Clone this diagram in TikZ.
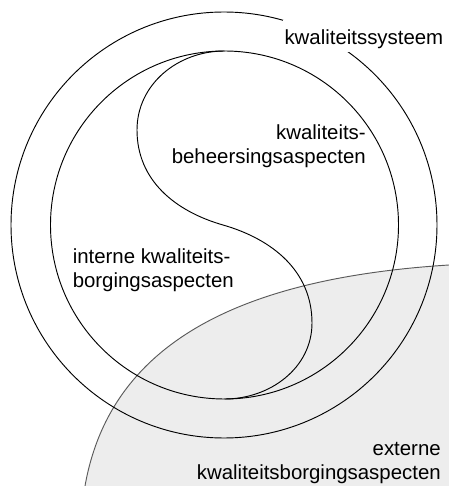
\documentclass[tikz,border=0pt]{standalone}
\usepackage{fontspec}
\setmainfont{Liberation Sans}
\usepackage{xcolor}
\definecolor{extgray}{HTML}{EDEDED}
\definecolor{extline}{HTML}{5A5A5A}

\begin{document}
\begin{tikzpicture}[
    x=0.75pt, y=0.75pt,
    ring/.style={
        draw=black,
        line width=0.7pt,
    },
    tag/.style={
        font=\fontsize{15.3pt}{17.6pt}\selectfont,
        inner sep=0pt,
    },
]

\useasboundingbox (0,0) rectangle (449,486);

% externe aspecten
\fill[extgray] (85,0) .. controls (110.2,142.8) and (239.4,207.8) .. (449,221) -- (449,0) -- cycle;
\draw[extline, line width=0.7pt] (85,0) .. controls (110.2,142.8) and (239.4,207.8) .. (449,221);

% systeem en interne aspecten
\draw[ring] (224,261) circle (213);
\draw[ring] (224.5,261) circle (174);

\coordinate (T) at (224.5,435);
\coordinate (L) at (137,356);
\coordinate (M) at (223,261);
\coordinate (R) at (312,163);
\coordinate (B) at (224.5,87);
\draw[ring] (T) to[out=180,in=90] (L) to[out=-90,in=164] (M)
    to[out=-16,in=90] (R) to[out=-90,in=0] (B);

\node[tag, anchor=base east, fill=white, inner xsep=1.5pt,
    text height=18.75pt, text depth=5.25pt] (sys) at (445.5,441) {kwaliteitssysteem};
\node[tag, align=right, anchor=base east] (beh) at (366,322.7) {kwaliteits-\\beheersingsaspecten};
\node[tag, align=left, anchor=base west] (int) at (72.5,198.7) {interne kwaliteits-\\borgingsaspecten};
\node[tag, align=right, anchor=base east] (ext) at (441,6.7) {externe\\kwaliteitsborgingsaspecten};

\end{tikzpicture}
\end{document}
